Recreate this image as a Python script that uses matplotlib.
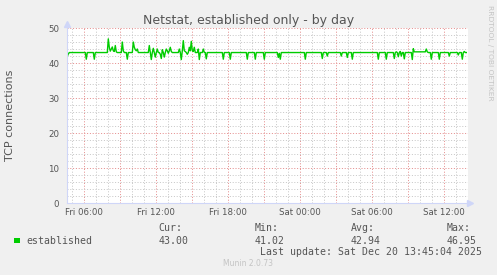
import numpy as np
import pandas as pd
import matplotlib
matplotlib.use("Agg")
import matplotlib.pyplot as plt
import matplotlib.dates as mdates
from matplotlib.patches import Rectangle

# Netstat "established" samples, 5 minute steps
start = "2025-12-19 04:35"
established = [
    41.9, 42.6, 43.0, 43.0, 43.0, 43.0, 43.0, 43.0, 43.0, 43.0, 43.0, 43.0, 43.0, 43.0, 43.0, 43.0, 43.0, 43.0, 43.0, 41.1,
    43.0, 43.0, 43.0, 43.0, 43.0, 43.0, 43.0, 41.1, 43.0, 43.0, 43.0, 43.0, 43.0, 43.0, 43.0, 43.0, 43.0, 43.0, 43.0, 43.0,
    43.0, 46.9, 44.5, 43.4, 44.0, 44.6, 43.5, 43.3, 45.0, 43.2, 43.0, 43.0, 43.0, 43.0, 43.0, 46.0, 43.5, 43.0, 43.0, 43.0,
    41.1, 43.0, 43.0, 43.0, 43.0, 43.0, 46.0, 44.5, 43.8, 43.5, 44.0, 43.0, 43.0, 43.0, 43.0, 43.0, 43.0, 43.0, 43.0, 43.0,
    43.0, 43.0, 45.0, 43.0, 41.0, 43.0, 44.2, 43.0, 41.7, 43.0, 44.0, 43.0, 43.0, 42.5, 41.3, 43.8, 43.0, 41.7, 43.0, 44.0,
    43.5, 42.8, 43.5, 44.5, 43.3, 43.0, 43.0, 43.0, 43.0, 43.0, 43.0, 43.0, 44.0, 43.0, 41.0, 43.5, 46.4, 43.5, 43.3, 43.0,
    42.5, 43.0, 44.5, 43.5, 46.2, 43.5, 43.3, 44.5, 43.0, 43.0, 43.0, 44.0, 41.0, 43.0, 43.0, 43.0, 44.0, 43.0, 43.0, 41.2,
    43.0, 43.0, 43.0, 43.0, 43.0, 43.0, 43.0, 43.0, 43.0, 43.0, 43.0, 43.0, 43.0, 43.0, 43.0, 43.0, 41.1, 43.0, 43.0, 43.0,
    43.0, 43.0, 43.0, 41.1, 43.0, 43.0, 43.0, 43.0, 43.0, 43.0, 43.0, 43.0, 43.0, 43.0, 43.0, 43.0, 43.0, 43.0, 43.0, 43.0,
    41.1, 43.0, 43.0, 43.0, 43.0, 43.0, 43.0, 43.0, 41.1, 43.0, 43.0, 43.0, 43.0, 43.0, 43.0, 43.0, 43.0, 41.1, 43.0, 43.0,
    43.0, 43.0, 43.0, 43.0, 43.0, 43.0, 43.0, 43.0, 43.0, 43.0, 43.0, 41.6, 42.8, 41.1, 43.0, 43.0, 43.0, 43.0, 43.0, 43.0,
    43.0, 43.0, 43.0, 43.0, 43.0, 43.0, 43.0, 43.0, 43.0, 43.0, 43.0, 43.0, 43.0, 43.0, 43.0, 43.0, 43.0, 43.0, 41.1, 43.0,
    43.0, 43.0, 43.0, 43.0, 43.0, 43.0, 43.0, 43.0, 43.0, 43.0, 43.0, 43.0, 43.0, 43.0, 43.0, 41.3, 43.0, 43.0, 43.0, 43.0,
    42.0, 43.0, 43.0, 43.0, 43.0, 43.0, 43.0, 43.0, 43.0, 43.0, 43.0, 43.0, 43.0, 43.0, 42.0, 43.0, 43.0, 43.0, 43.0, 43.0,
    41.6, 43.0, 43.0, 43.0, 43.0, 41.1, 43.0, 43.0, 43.0, 43.0, 43.0, 43.0, 43.0, 43.0, 43.0, 43.0, 43.0, 43.0, 43.0, 43.0,
    43.0, 43.0, 43.0, 43.0, 43.0, 43.0, 43.0, 43.0, 43.0, 43.0, 43.0, 41.1, 43.0, 43.0, 43.0, 43.0, 43.0, 43.0, 43.0, 41.1,
    43.0, 43.0, 43.0, 43.0, 43.0, 43.0, 43.0, 41.3, 43.0, 43.2, 43.0, 41.8, 43.0, 43.3, 42.0, 43.0, 43.0, 41.2, 43.0, 43.0,
    43.0, 43.0, 43.0, 43.0, 43.0, 41.0, 44.1, 43.2, 43.2, 43.2, 43.2, 43.2, 43.2, 43.2, 43.2, 43.2, 43.2, 43.2, 43.2, 44.0,
    43.2, 43.0, 43.0, 43.0, 41.1, 43.0, 43.0, 43.0, 43.0, 43.0, 43.0, 43.0, 41.1, 43.0, 43.0, 43.0, 43.0, 43.0, 43.0, 43.0,
    43.0, 43.0, 42.0, 43.0, 43.0, 43.0, 43.0, 43.0, 43.0, 43.0, 43.0, 42.3, 43.0, 43.0, 43.0, 41.1, 43.0, 43.3, 43.0, 43.0,
]
times = pd.date_range(start, periods=len(established), freq="5min")

stat_names = ["Cur:", "Min:", "Avg:", "Max:"]
stat_values = ["43.00", "41.02", "42.94", "46.95"]
title = "Netstat, established only - by day"
ylabel = "TCP connections"
last_update = "Last update: Sat Dec 20 13:45:04 2025"

W, H = 497, 275
txt = "#555555"
fig = plt.figure(figsize=(W / 100, H / 100), dpi=100, facecolor="#F0F0F0")

def fx(px):
    return px / W

def fy(py):
    return 1 - py / H

ax = fig.add_axes([fx(66.7), fy(203.3), fx(468 - 66.7), (203.3 - 28) / H])
ax.set_facecolor("white")

ax.plot(times, established, color="#00CC00", lw=1.0, zorder=5)

ax.set_ylim(0, 50)
ax.set_xlim(pd.Timestamp("2025-12-19 04:32"), pd.Timestamp("2025-12-20 13:58:30"))
ax.set_yticks(np.arange(0, 51, 10))
ax.set_yticks(np.arange(0, 51, 2), minor=True)
ax.xaxis.set_major_locator(mdates.HourLocator(byhour=range(0, 24, 3)))
ax.xaxis.set_minor_locator(mdates.HourLocator())

def xfmt(v, pos):
    d = mdates.num2date(v)
    return d.strftime("%a %H:%M") if d.hour % 6 == 0 else ""

ax.xaxis.set_major_formatter(plt.FuncFormatter(xfmt))

# dotted grid like rrdtool
dash = (0, (1, 1.8))
ax.grid(which="minor", color="#C8C8C8", lw=0.72, linestyle=dash)
ax.grid(which="major", color="#E58E8E", lw=0.72, linestyle=dash)
ax.set_axisbelow(True)
ax.tick_params(which="both", length=0, colors=txt, labelsize=6.25)
ax.tick_params(axis="x", pad=3.6)
ax.tick_params(axis="y", pad=5.3)

for s in ["top", "right", "left", "bottom"]:
    ax.spines[s].set_visible(False)
axc = "#CFD6F8"
ax.plot([0, 0], [0, 1.03], color=axc, lw=0.8, transform=ax.transAxes, clip_on=False, zorder=6)
ax.plot([0, 1.008], [0, 0], color=axc, lw=0.8, transform=ax.transAxes, clip_on=False, zorder=6)
ax.plot(0, 1.024, marker="^", ms=4, color=axc, transform=ax.transAxes, clip_on=False, zorder=6)
ax.plot(1.006, 0, marker=">", ms=4, color=axc, transform=ax.transAxes, clip_on=False, zorder=6)

fig.text(0.5, fy(24), title, ha="center", va="baseline", fontsize=9, color=txt)
fig.text(fx(10), fy(115), ylabel, ha="center", va="center", rotation=90, fontsize=8, color=txt)
fig.text(fx(490), fy(53), "RRDTOOL / TOBI OETIKER", ha="center", va="center",
         rotation=270, fontsize=5.4, color="#C4C4C4")
fig.text(fx(248), fy(264), "Munin 2.0.73", ha="center", va="center", fontsize=5.5, color="#C4C4C4")

# legend, rrdtool style
mono = "DejaVu Sans Mono"
fig.patches.append(Rectangle((fx(14), fy(242.5)), fx(6), 5 / H, transform=fig.transFigure,
                             facecolor="#00CC00", edgecolor="none"))
fig.text(fx(26.7), fy(243.7), "established", ha="left", va="baseline",
         fontsize=7.1, family=mono, color=txt)
for name, val, px in zip(stat_names, stat_values, [158.3, 255, 351, 446.7]):
    fig.text(fx(px), fy(231.3), name, ha="left", va="baseline", fontsize=7.1, family=mono, color=txt)
    fig.text(fx(px), fy(243.7), val, ha="left", va="baseline", fontsize=7.1, family=mono, color=txt)
fig.text(fx(482.3), fy(255), last_update, ha="right", va="baseline", fontsize=7.1, family=mono, color=txt)

fig.savefig("out.png", dpi=100, facecolor=fig.get_facecolor())
